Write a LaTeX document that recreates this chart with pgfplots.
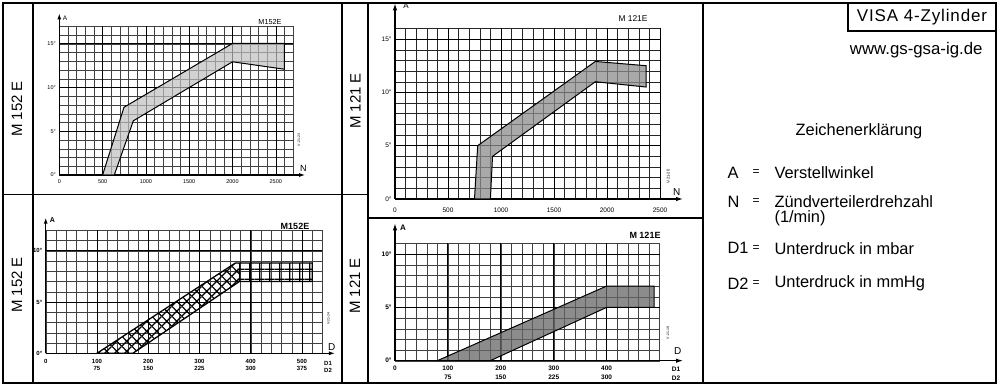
\documentclass[border=0pt]{standalone}
\usepackage{fontspec}
\setmainfont{Liberation Sans}
\usepackage{pgfplots}
\pgfplotsset{compat=1.18}
\usetikzlibrary{arrows.meta,patterns}

\pgfdeclarepatternformonly{xhatch}{\pgfpointorigin}{\pgfpoint{10.25pt}{10.25pt}}{\pgfpoint{10.25pt}{10.25pt}}{%
  \pgfsetlinewidth{1.3pt}%
  \pgfpathmoveto{\pgfpoint{0pt}{0pt}}\pgfpathlineto{\pgfpoint{10.25pt}{10.25pt}}%
  \pgfpathmoveto{\pgfpoint{0pt}{10.25pt}}\pgfpathlineto{\pgfpoint{10.25pt}{0pt}}%
  \pgfusepath{stroke}}
\pgfdeclarepatternformonly{sqgrid}{\pgfpointorigin}{\pgfpoint{10.25pt}{10.25pt}}{\pgfpoint{10.25pt}{10.25pt}}{%
  \pgfsetlinewidth{1.3pt}%
  \pgfpathmoveto{\pgfpoint{0pt}{5pt}}\pgfpathlineto{\pgfpoint{10.25pt}{5pt}}%
  \pgfpathmoveto{\pgfpoint{5pt}{0pt}}\pgfpathlineto{\pgfpoint{5pt}{10.25pt}}%
  \pgfusepath{stroke}}

\pgfplotsset{
  panel/.style={
    scale only axis, anchor=south west, axis lines=left, clip=false,
    grid=major, major tick length=0pt, minor tick length=0pt,
    major grid style={black!75, line width=0.4pt},
    axis line style={line width=1.1pt},
    xticklabels={}, yticklabels={},
    extra x tick style={grid=major, major grid style={black, line width=#1}},
    extra y tick style={grid=major, major grid style={black, line width=0.9pt}},
    tick label style={font=\fontsize{6}{7}\selectfont},
  },
  panel/.default=0.5pt,
}

\begin{document}
\begin{tikzpicture}
\path[use as bounding box] (0pt,0pt) rectangle (1000pt,386pt);

% ---------- Panel 1: M152E, A vs N ----------
\begin{axis}[panel, at={(59.3pt,211pt)}, width=233.8pt, height=148.6pt,
  xmin=0, xmax=2700, ymin=0, ymax=17,
  xtick={0,100,...,2700}, ytick={0,1,...,17},
  extra x ticks={0,500,1000,1500,2000,2500},
  extra x tick labels={0,500,1000,1500,2000,2500},
  extra y ticks={0,5,10,15},
  extra y tick labels={0\textdegree,5\textdegree,10\textdegree,15\textdegree},
  tick label style={font=\fontsize{5.5}{6.5}\selectfont},
  xticklabel style={yshift=-1pt},
  x axis line style={-{Latex[length=6pt,width=4pt]}, shorten >=-12pt},
  y axis line style={-{Latex[length=6pt,width=4pt]}, shorten >=-13pt}]
\addplot[draw=black, line width=1pt, fill=black!25, fill opacity=0.7]
  coordinates {(500,0) (747,7.75) (2000,15.05) (2600,15.05) (2600,12.1) (2000,12.95) (855,6.2) (635,0)} -- cycle;
\end{axis}

% ---------- Panel 2: M121E, A vs N ----------
\begin{axis}[panel, at={(395pt,187pt)}, width=265pt, height=170.6pt,
  xmin=0, xmax=2500, ymin=0, ymax=16,
  xtick={0,100,...,2500}, ytick={0,1,...,16},
  extra x ticks={0,500,1000,1500,2000,2500},
  extra x tick labels={0,500,1000,1500,2000,2500},
  extra y ticks={0,5,10,15},
  extra y tick labels={0\textdegree,5\textdegree,10\textdegree,15\textdegree},
  tick label style={font=\fontsize{6.5}{7.5}\selectfont},
  xticklabel style={yshift=-5pt},
  major grid style={black!85, line width=0.4pt},
  x axis line style={-{Latex[length=7pt,width=4.5pt]}, shorten >=-23pt},
  y axis line style={-{Latex[length=7pt,width=4.5pt]}, shorten >=-25pt}]
\addplot[draw=black, line width=1pt, fill=black!45, fill opacity=0.75]
  coordinates {(750,0) (780,5) (1890,12.9) (2370,12.5) (2370,10.5) (1890,11) (920,4) (900,0)} -- cycle;
\end{axis}

% ---------- Panel 3: M152E, A vs D ----------
\begin{axis}[panel=0.9pt, at={(45.7pt,32.7pt)}, width=276.75pt, height=123.1pt,
  xmin=0, xmax=540, ymin=0, ymax=12,
  xtick={0,20,...,540}, ytick={0,1,...,12},
  extra x ticks={0,100,200,300,400,500},
  extra x tick labels={0,{100\\75},{200\\150},{300\\225},{400\\300},{500\\375}},
  extra y ticks={0,5,10},
  extra y tick labels={0\textdegree,5\textdegree,10\textdegree},
  tick label style={font=\bfseries\fontsize{6}{7}\selectfont},
  xticklabel style={align=center, yshift=-2pt},
  x axis line style={-{Latex[length=6pt,width=4pt]}, shorten >=-12.5pt},
  y axis line style={-{Latex[length=6pt,width=4pt]}, shorten >=-12.5pt}]
\addplot[draw=none, pattern=xhatch]
  coordinates {(100,0) (370,8.8) (376,8.8) (378,7) (170,0)} -- cycle;
\addplot[draw=none, pattern=sqgrid]
  coordinates {(374,7) (374,8.8) (520,8.8) (520,7)} -- cycle;
\addplot[draw=black, line width=1.3pt]
  coordinates {(100,0) (370,8.8) (520,8.8) (520,7) (378,7) (170,0)} -- cycle;
\end{axis}

% ---------- Panel 4: M121E, A vs D ----------
\begin{axis}[panel=0.9pt, at={(395pt,25.3pt)}, width=264.5pt, height=117.3pt,
  xmin=0, xmax=500, ymin=0, ymax=11,
  xtick={0,20,...,500}, ytick={0,1,...,11},
  extra x ticks={0,100,200,300,400},
  extra x tick labels={0,{100\\75},{200\\150},{300\\225},{400\\300}},
  extra y ticks={0,5,10},
  extra y tick labels={0\textdegree,5\textdegree,10\textdegree},
  tick label style={font=\bfseries\fontsize{6.5}{9}\selectfont},
  xticklabel style={align=center, yshift=-2pt},
  x axis line style={-{Latex[length=7pt,width=4.5pt]}, shorten >=-23.5pt},
  y axis line style={-{Latex[length=7pt,width=4.5pt]}, shorten >=-20pt}]
\addplot[draw=black, line width=1pt, fill=black!60, fill opacity=0.75]
  coordinates {(80,0) (400,7) (490,7) (490,5) (400,5) (180,0)} -- cycle;
\end{axis}

% ---------- Frame ----------
\begin{scope}[line width=1.4pt]
\draw (3pt,3pt) rectangle (996pt,383pt);
\draw (33pt,3pt) -- (33pt,383pt);
\draw (342pt,3pt) -- (342pt,383pt);
\draw (368pt,3pt) -- (368pt,383pt);
\draw (703pt,3pt) -- (703pt,383pt);
\draw (3pt,191.5pt) -- (368pt,191.5pt);
\draw (368pt,168pt) -- (703pt,168pt);
\draw (848pt,383pt) -- (848pt,355pt) -- (996pt,355pt);
\end{scope}

% ---------- Panel labels ----------
\begin{scope}[font=\fontsize{15}{18}\selectfont]
\node[rotate=90] at (17pt,277pt) {M 152 E};
\node[rotate=90] at (17pt,101pt) {M 152 E};
\node[rotate=90] at (355.5pt,285pt) {M 121 E};
\node[rotate=90] at (355pt,100pt) {M 121 E};
\end{scope}

% ---------- Axis annotations ----------
\node[font=\fontsize{6.5}{8}\selectfont] at (65pt,367.7pt) {A};
\node[font=\fontsize{9}{10}\selectfont] at (303.3pt,217.7pt) {N};
\node[font=\fontsize{7.3}{9}\selectfont] at (270pt,364pt) {M152E};
\node[rotate=90, font=\fontsize{3.5}{4}\selectfont] at (299pt,246pt) {V-21-23};

\node[font=\fontsize{8}{9}\selectfont] at (406pt,380pt) {A};
\node[font=\fontsize{10}{11}\selectfont] at (676.7pt,194.3pt) {N};
\node[font=\fontsize{8.4}{10}\selectfont] at (633pt,367.7pt) {M 121E};
\node[rotate=90, font=\fontsize{4}{5}\selectfont] at (668.3pt,209.3pt) {V-21-20};

\node[font=\bfseries\fontsize{7}{8}\selectfont] at (52.3pt,166pt) {A};
\node[font=\fontsize{10}{11}\selectfont] at (331.7pt,39.3pt) {D};
\node[font=\bfseries\fontsize{9}{10}\selectfont] at (295pt,159.3pt) {M152E};
\node[rotate=90, font=\fontsize{3.5}{4}\selectfont] at (328.3pt,67.7pt) {V-21-24};
\node[font=\bfseries\fontsize{6}{7}\selectfont, align=center] at (328pt,19.5pt) {D1\\D2};

\node[font=\bfseries\fontsize{8}{9}\selectfont] at (403pt,158.7pt) {A};
\node[font=\fontsize{10}{11}\selectfont] at (677.7pt,35pt) {D};
\node[font=\bfseries\fontsize{9}{10}\selectfont] at (645pt,150.3pt) {M 121E};
\node[rotate=90, font=\fontsize{3.5}{4}\selectfont] at (668pt,53pt) {V-21-19};
\node[font=\bfseries\fontsize{6.5}{9}\selectfont, align=center] at (676pt,12.5pt) {D1\\D2};

% ---------- Right panel ----------
\node[font=\fontsize{17}{20}\selectfont\addfontfeature{LetterSpace=5}] at (922pt,369pt) {VISA 4-Zylinder};
\node[anchor=east, font=\fontsize{16.8}{20}\selectfont] at (986pt,336pt) {www.gs-gsa-ig.de};
\node[font=\fontsize{16.4}{19}\selectfont] at (859pt,254.3pt) {Zeichenerklärung};
\begin{scope}[font=\fontsize{16.4}{19}\selectfont]
\node[anchor=west] at (724pt,213.3pt) {A};
\node[anchor=west] at (724pt,184.3pt) {N};
\node[anchor=west] at (724pt,137.7pt) {D1};
\node[anchor=west] at (724pt,102.7pt) {D2};
\node[anchor=west] at (771pt,213.3pt) {Verstellwinkel};
\node[anchor=west] at (771pt,184.3pt) {Zündverteilerdrehzahl};
\node[anchor=west] at (771pt,167.7pt) {(1/min)};
\node[anchor=west] at (771pt,137.7pt) {Unterdruck in mbar};
\node[anchor=west] at (771pt,102.7pt) {Unterdruck in mmHg};
\end{scope}
\begin{scope}[font=\fontsize{12}{14}\selectfont]
\node at (756pt,213.3pt) {=};
\node at (756pt,184.3pt) {=};
\node at (756pt,137.7pt) {=};
\node at (756pt,102.7pt) {=};
\end{scope}
\end{tikzpicture}
\end{document}
